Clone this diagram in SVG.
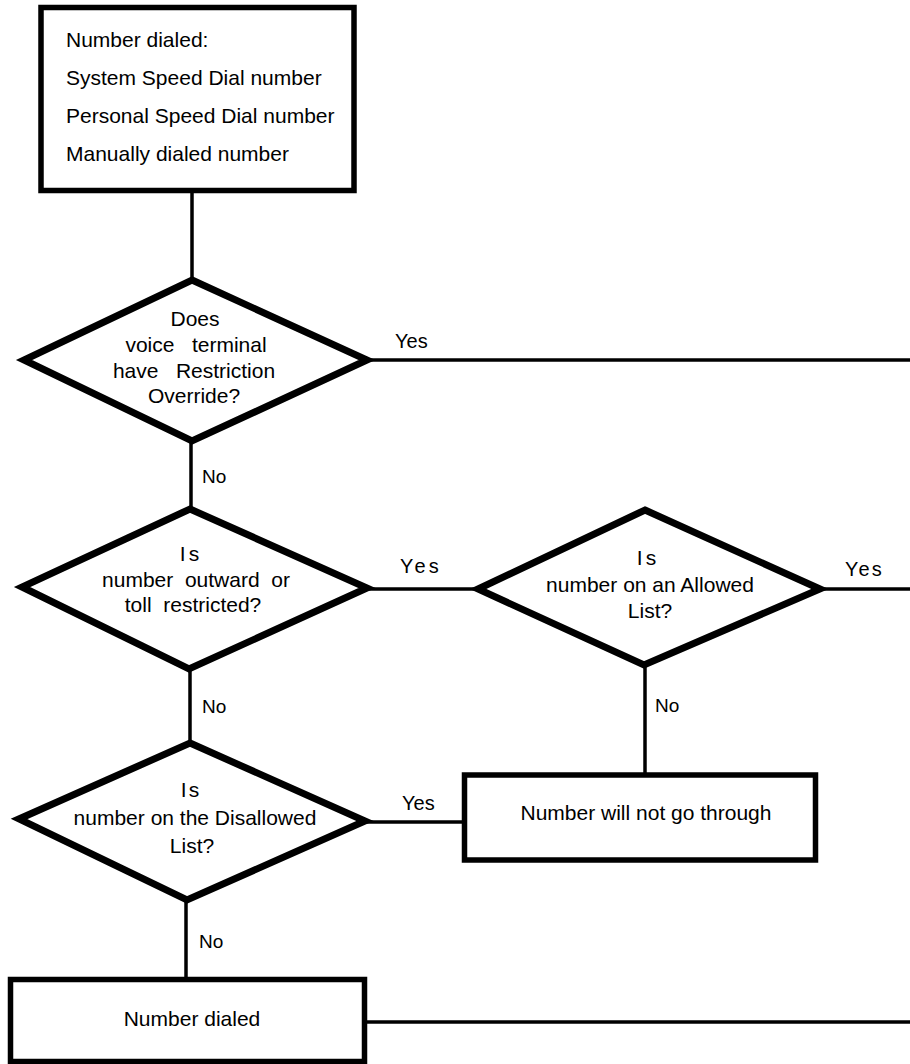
<svg xmlns="http://www.w3.org/2000/svg" width="910" height="1064" viewBox="0 0 910 1064">
<style>
.box{fill:#fff;stroke:#000;stroke-width:5.5}
.dia{fill:#fff;stroke:#000;stroke-width:7;stroke-linejoin:miter}
.con{stroke:#000;stroke-width:3.5;fill:none}
text{font-family:"Liberation Sans",Arial,sans-serif;font-size:21px;fill:#000}
.c{text-anchor:middle}
.lbl{font-size:19px}
.yes{font-size:20px}
</style>
<rect width="910" height="1064" fill="#fff"/>
<g id="connectors">
<line class="con" x1="192" y1="190" x2="192" y2="280"/>
<line class="con" x1="367" y1="360" x2="910" y2="360"/>
<line class="con" x1="191" y1="441" x2="191" y2="509"/>
<line class="con" x1="367" y1="589" x2="478" y2="589"/>
<line class="con" x1="820" y1="589" x2="910" y2="589"/>
<line class="con" x1="645" y1="665" x2="645" y2="775"/>
<line class="con" x1="190" y1="669" x2="190" y2="743"/>
<line class="con" x1="365" y1="822" x2="464" y2="822"/>
<line class="con" x1="186" y1="900" x2="186" y2="979"/>
<line class="con" x1="367" y1="1022" x2="910" y2="1022"/>
<text class="yes" x="395" y="348">Yes</text>
<text class="lbl" x="202" y="483">No</text>
<text class="yes" x="400" y="573" letter-spacing="3">Yes</text>
<text class="yes" x="845" y="576" letter-spacing="2">Yes</text>
<text class="lbl" x="202" y="713">No</text>
<text class="lbl" x="655" y="712">No</text>
<text class="yes" x="402" y="810">Yes</text>
<text class="lbl" x="199" y="948">No</text>
</g>
<g id="start">
<rect class="box" x="41" y="7.5" width="313" height="183"/>
<text x="66" y="47">Number dialed:</text>
<text x="66" y="85">System Speed Dial number</text>
<text x="66" y="123">Personal Speed Dial number</text>
<text x="66" y="161">Manually dialed number</text>
</g>
<g id="d-override">
<polygon class="dia" points="192,280 367,360 192,441 24,360"/>
<text class="c" x="195" y="326">Does</text>
<text class="c" x="196" y="352" xml:space="preserve">voice   terminal</text>
<text class="c" x="194" y="378" xml:space="preserve">have   Restriction</text>
<text class="c" x="194" y="403">Override?</text>
</g>
<g id="d-restricted">
<polygon class="dia" points="190,509 367,588 189,669 22,587"/>
<text class="c" x="191" y="561" letter-spacing="3">Is</text>
<text class="c" x="196" y="587" xml:space="preserve">number  outward  or</text>
<text class="c" x="193" y="612" xml:space="preserve">toll  restricted?</text>
</g>
<g id="d-allowed">
<polygon class="dia" points="645,510 820,589 644,665 478,589"/>
<text class="c" x="648" y="565" letter-spacing="3">Is</text>
<text class="c" x="650" y="592">number on an Allowed</text>
<text class="c" x="650" y="618">List?</text>
</g>
<g id="d-disallowed">
<polygon class="dia" points="190,743 365,821 187,900 19,819"/>
<text class="c" x="191" y="797" letter-spacing="2">Is</text>
<text class="c" x="195" y="825">number on the Disallowed</text>
<text class="c" x="192" y="853">List?</text>
</g>
<g id="blocked">
<rect class="box" x="464.5" y="775" width="351" height="85"/>
<text class="c" x="646" y="820">Number will not go through</text>
</g>
<g id="dialed">
<rect class="box" x="10.5" y="979.5" width="354" height="82"/>
<text class="c" x="192" y="1026">Number dialed</text>
</g>
</svg>
